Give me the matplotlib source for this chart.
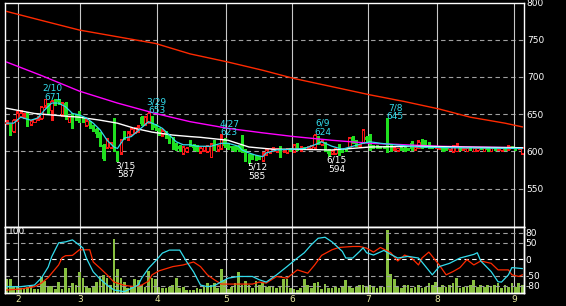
import matplotlib
matplotlib.use("Agg")
import matplotlib.pyplot as plt
import numpy as np

# daily candles, one entry per trading day
opens = [638, 636, 628, 643, 648, 647, 652, 637, 640, 643,
         645, 662, 663, 656, 668, 669, 650, 665, 640, 650,
         648, 648, 645, 636, 640, 634, 630, 625, 609, 606,
         606, 611, 599, 599, 626, 618, 624, 626, 628, 646,
         638, 640, 646, 636, 631, 623, 626, 621, 618, 610,
         607, 598, 600, 614, 609, 608, 600, 602, 600, 593,
         614, 603, 604, 617, 610, 607, 606, 608, 606, 602,
         595, 596, 594, 593, 588, 596, 599, 601, 600, 606,
         600, 599, 603, 600, 610, 602, 605, 605, 604, 606,
         619, 610, 612, 602, 598, 598, 609, 602, 604, 606,
         620, 614, 607, 613, 620, 622, 608, 608, 607, 607,
         608, 608, 603, 602, 606, 605, 604, 612, 603, 605,
         616, 615, 612, 607, 605, 604, 607, 604, 603, 600,
         601, 606, 603, 601, 605, 601, 602, 605, 601, 604,
         601, 604, 603, 602, 605, 603, 606, 605, 604, 598]
highs = [642, 637, 643, 654, 656, 651, 653, 642, 644, 647,
         661, 671, 665, 669, 670, 670, 667, 666, 647, 652,
         650, 655, 646, 643, 641, 635, 631, 626, 610, 618,
         613, 645, 601, 617, 628, 627, 631, 633, 635, 648,
         648, 653, 648, 637, 632, 630, 627, 622, 619, 612,
         609, 607, 606, 615, 610, 609, 606, 608, 609, 612,
         616, 609, 623, 618, 611, 608, 607, 609, 622, 603,
         596, 597, 595, 594, 599, 603, 605, 606, 605, 607,
         602, 605, 604, 610, 611, 607, 606, 607, 609, 624,
         621, 615, 613, 603, 602, 604, 610, 603, 605, 619,
         621, 615, 610, 630, 621, 623, 609, 609, 608, 608,
         645, 609, 606, 605, 607, 606, 605, 614, 607, 616,
         617, 616, 613, 608, 608, 608, 608, 605, 607, 609,
         611, 607, 606, 606, 606, 605, 606, 606, 605, 605,
         605, 605, 605, 605, 606, 609, 607, 606, 605, 606]
lows = [637, 622, 626, 641, 646, 645, 634, 635, 639, 642,
        644, 660, 650, 642, 663, 664, 648, 644, 639, 631,
        642, 639, 640, 634, 632, 628, 620, 607, 588, 604,
        604, 600, 587, 597, 617, 616, 622, 625, 626, 635,
        636, 638, 630, 629, 622, 621, 618, 612, 603, 602,
        601, 596, 599, 608, 602, 600, 598, 600, 599, 592,
        602, 601, 603, 606, 603, 602, 601, 600, 599, 587,
        585, 590, 588, 590, 587, 595, 598, 600, 599, 592,
        599, 598, 600, 599, 602, 601, 603, 604, 603, 604,
        610, 609, 601, 594, 597, 597, 595, 599, 600, 605,
        611, 607, 606, 611, 614, 602, 604, 605, 604, 604,
        599, 601, 602, 601, 602, 600, 602, 602, 602, 604,
        605, 606, 605, 605, 604, 603, 600, 602, 602, 599,
        600, 602, 602, 600, 602, 600, 601, 603, 600, 601,
        600, 602, 602, 601, 602, 602, 604, 602, 603, 597]
closes = [640, 627, 642, 651, 652, 649, 636, 641, 643, 645,
          660, 670, 652, 668, 665, 666, 665, 646, 646, 641,
          644, 641, 641, 641, 634, 630, 624, 609, 590, 616,
          611, 602, 593, 615, 619, 625, 630, 632, 633, 637,
          646, 652, 632, 632, 624, 628, 620, 614, 605, 604,
          603, 606, 605, 610, 604, 601, 605, 607, 608, 610,
          604, 608, 618, 608, 605, 604, 603, 602, 601, 589,
          592, 592, 590, 591, 596, 602, 604, 605, 604, 594,
          601, 604, 601, 609, 603, 606, 604, 606, 608, 622,
          612, 614, 602, 597, 601, 603, 596, 600, 601, 618,
          612, 608, 609, 629, 615, 603, 605, 606, 605, 605,
          600, 602, 605, 604, 603, 601, 603, 603, 606, 613,
          606, 607, 606, 606, 607, 607, 601, 603, 606, 608,
          609, 603, 605, 605, 603, 604, 605, 604, 604, 602,
          604, 603, 604, 604, 603, 607, 605, 603, 604, 605]
volume = [140, 140, 60, 60, 50, 50, 60, 60, 40, 40,
          160, 120, 70, 70, 40, 110, 40, 250, 50, 100,
          80, 210, 150, 70, 50, 60, 110, 160, 180, 150,
          80, 540, 240, 150, 110, 50, 60, 140, 130, 80,
          60, 220, 150, 140, 60, 50, 50, 60, 80, 150,
          50, 60, 30, 30, 30, 50, 40, 60, 100, 80,
          100, 50, 240, 130, 40, 60, 100, 210, 80, 120,
          80, 50, 120, 80, 100, 60, 70, 60, 50, 70,
          140, 140, 50, 40, 30, 50, 140, 80, 50, 100,
          110, 40, 90, 50, 50, 60, 50, 60, 130, 60,
          50, 60, 80, 80, 60, 80, 60, 50, 70, 60,
          630, 190, 140, 60, 50, 80, 80, 50, 60, 80,
          50, 60, 100, 80, 110, 60, 80, 60, 80, 100,
          150, 50, 60, 60, 80, 130, 60, 80, 60, 80,
          60, 80, 100, 50, 80, 60, 100, 60, 100, 80]

# moving averages (day index, price)
ma5_idx = [0, 2, 4, 7, 9, 11, 13, 15, 17, 19, 21, 23, 25, 27, 29, 31, 32, 34, 36, 38,
           41, 43, 45, 47, 49, 51, 53, 55, 59, 62, 64, 67, 68, 70, 72, 74, 75, 78, 82, 86,
           89, 91, 94, 97, 100, 103, 105, 108, 112, 119, 128, 149]
ma5_val = [638, 638, 646, 642, 645, 656, 665, 665, 660, 651, 649, 645, 638, 629, 615, 606, 604, 618, 620, 628,
           640, 636, 631, 622, 613, 609, 609, 607, 607, 611, 611, 607, 602, 598, 595, 593, 598, 602, 603, 604,
           609, 613, 607, 603, 607, 611, 613, 611, 609, 606, 605, 604]
ma25_idx = [0, 8, 13, 21, 27, 32, 37, 42, 48, 53, 56, 64, 70, 77, 83, 94, 105, 120, 130, 149]
ma25_val = [658, 651, 649, 646, 642, 638, 631, 626, 622, 620, 619, 615, 606, 603, 603, 602, 606, 607, 606, 605]
ma75_idx = [0, 10, 21, 32, 43, 53, 64, 74, 83, 94, 105, 115, 125, 135, 149]
ma75_val = [720, 702, 681, 665, 651, 640, 631, 625, 620, 615, 611, 609, 607, 606, 605]
ma200_idx = [0, 10, 21, 32, 43, 53, 64, 74, 83, 94, 105, 115, 125, 134, 144, 149]
ma200_val = [788, 776, 763, 754, 745, 731, 720, 709, 698, 687, 676, 667, 657, 646, 638, 633]

# oscillators in the lower panel
osc1_idx = [0, 4, 8, 10, 12, 13, 15, 17, 19, 20, 22, 23, 25, 27, 29, 31, 34, 36, 38, 39,
            41, 43, 45, 47, 50, 52, 54, 56, 58, 60, 62, 64, 67, 71, 73, 75, 78, 81, 84, 86,
            88, 90, 92, 94, 97, 98, 100, 102, 103, 104, 106, 109, 111, 113, 116, 119, 120, 123, 125, 128,
            131, 135, 136, 137, 140, 142, 143, 145, 146, 149]
osc1_val = [-83, -83, -78, -57, -23, 8, 50, 53, 59, 51, 35, 4, -38, -60, -78, -93, -98, -88, -78, -57,
            -27, -5, 19, 28, 28, -7, -38, -78, -83, -80, -68, -57, -52, -52, -62, -69, -47, -22, 4, 20,
            44, 64, 67, 53, 24, 4, 4, 24, 35, 20, 13, 27, 15, 4, 9, 4, -8, -47, -22, -12,
            4, 15, 20, -5, -37, -68, -69, -47, -25, -28]
osc2_idx = [0, 4, 8, 10, 12, 13, 15, 16, 17, 19, 21, 24, 25, 27, 29, 31, 34, 37, 39, 41,
            42, 44, 48, 51, 54, 56, 58, 60, 62, 65, 71, 73, 75, 78, 81, 84, 87, 89, 91, 94,
            96, 100, 102, 104, 106, 108, 111, 113, 115, 117, 119, 120, 122, 123, 125, 127, 129, 131, 133, 135,
            137, 140, 142, 145, 146, 148, 149]
osc2_val = [-93, -90, -83, -72, -55, -42, -17, 5, 11, 12, 29, 29, -8, -27, -47, -69, -79, -83, -78, -66,
            -47, -35, -22, -17, -8, -22, -47, -62, -75, -75, -75, -69, -72, -52, -57, -32, -42, -17, 12, 29,
            36, 39, 39, 34, 22, 36, 20, -5, 13, 4, -17, 4, 22, 9, -17, -47, -37, -25, -1, -17,
            -5, -12, -32, -32, -47, -52, -47]

month_pos = [3.3, 21.2, 43.4, 63.4, 82.4, 104.4, 124.4, 146.6]
month_lbl = ['2', '3', '4', '5', '6', '7', '8', '9']

# marked highs and lows
peak_idx = [11, 41, 62, 89, 110, 32, 70, 93]
peak_date = ['2/10', '3/29', '4/27', '6/9', '7/8', '3/15', '5/12', '6/15']
peak_price = [671, 653, 623, 624, 645, 587, 585, 594]
peak_high = [True, True, True, True, True, False, False, False]

RED = '#ff1818'
GREEN = '#20e020'
CYAN = '#33ddee'
FS = 6.5

plt.rcParams['font.family'] = 'DejaVu Sans'
fig = plt.figure(figsize=(5.66, 3.06), dpi=100, facecolor='black')
W, H = 566.0, 306.0
ax = fig.add_axes([5 / W, 1 - 226.7 / H, 519 / W, 224.2 / H], facecolor='black')
ax2 = fig.add_axes([5 / W, 1 - 293.3 / H, 519 / W, 66.6 / H], facecolor='black')

x = np.arange(len(closes))
o = np.array(opens)
c = np.array(closes)
up = c >= o
cols = np.where(up, RED, GREEN)

ax.vlines(x, lows, highs, colors=cols, lw=0.8, zorder=2, antialiased=False)
body = np.maximum(np.abs(c - o), 0.8)
bot = np.minimum(o, c)
ax.bar(x[up], body[up], bottom=bot[up], width=0.72, facecolor='black',
       edgecolor=RED, lw=0.7, zorder=3)
ax.bar(x[~up], body[~up], bottom=bot[~up], width=0.72, color=GREEN, lw=0, zorder=3)

ax.plot(ma200_idx, ma200_val, color='#ff2a00', lw=1.0, zorder=4)
ax.plot(ma75_idx, ma75_val, color='#ff00ff', lw=1.0, zorder=4)
ax.plot(ma25_idx, ma25_val, color='white', lw=1.0, zorder=4)
ax.plot(ma5_idx, ma5_val, color=CYAN, lw=0.9, zorder=5)

for i, d, p, hi in zip(peak_idx, peak_date, peak_price, peak_high):
    col = CYAN if hi else 'white'
    if hi:
        y1, y2 = p + 14, p + 2
    else:
        y1, y2 = p - 6, p - 18
    ax.text(i + 2.3, y1, d, color=col, fontsize=FS, ha='center', va='center', zorder=6)
    ax.text(i + 2.3, y2, str(p), color=col, fontsize=FS, ha='center', va='center', zorder=6)

for v in [550, 600, 650, 700, 750]:
    ax.axhline(v, color='#a0a0a0', lw=0.8, ls=(0, (4, 3)), zorder=1)
for p in month_pos:
    ax.axvline(p, color='#c8c8c8', lw=0.8, zorder=1)
    ax2.axvline(p, color='#c8c8c8', lw=0.8, zorder=1)

ax.set_xlim(-0.5, 149.5)
ax.set_ylim(499, 800)
ax.set_xticks([])
ax.yaxis.tick_right()
ax.set_yticks([550, 600, 650, 700, 750, 800])
ax.tick_params(axis='y', length=0, pad=2, labelcolor='white', labelsize=FS)

# lower panel: volume behind, oscillators on top
ax2.bar(x, volume, width=0.78, color='#88c040', lw=0, zorder=2)
ax2.set_ylim(0, 666)
ax2.set_xlim(-0.5, 149.5)
ax2.tick_params(axis='y', left=False, labelleft=False)
ax2.set_xticks(month_pos)
ax2.set_xticklabels(month_lbl)
ax2.tick_params(axis='x', length=0, pad=1.5, labelcolor='#e8e8a0', labelsize=FS)

axo = ax2.twinx()
axo.set_ylim(-103, 99)
for v in [80, 50, -50, -80]:
    axo.axhline(v, color='#a0a0a0', lw=0.8, ls=(0, (4, 3)), zorder=1)
axo.axhline(0, color='white', lw=0.8, ls=(0, (4, 3)), zorder=1)
axo.plot(osc2_idx, osc2_val, color='#ff2a00', lw=0.9, zorder=3)
axo.plot(osc1_idx, osc1_val, color=CYAN, lw=0.9, zorder=3)
axo.set_yticks([80, 50, 0, -50, -80])
axo.set_yticklabels(['80', '50', '0', '-50', '-80'])
axo.tick_params(axis='y', length=0, pad=1, labelcolor='white', labelsize=FS)
for lbl in axo.get_yticklabels():
    lbl.set_horizontalalignment('left')
axo.text(0.4, 84, '100', color='white', fontsize=FS, ha='left', va='center')

for a in (ax, ax2, axo):
    for s in a.spines.values():
        s.set_color('white')
        s.set_linewidth(1.0)

fig.savefig('out.png', dpi=100, facecolor='black')
